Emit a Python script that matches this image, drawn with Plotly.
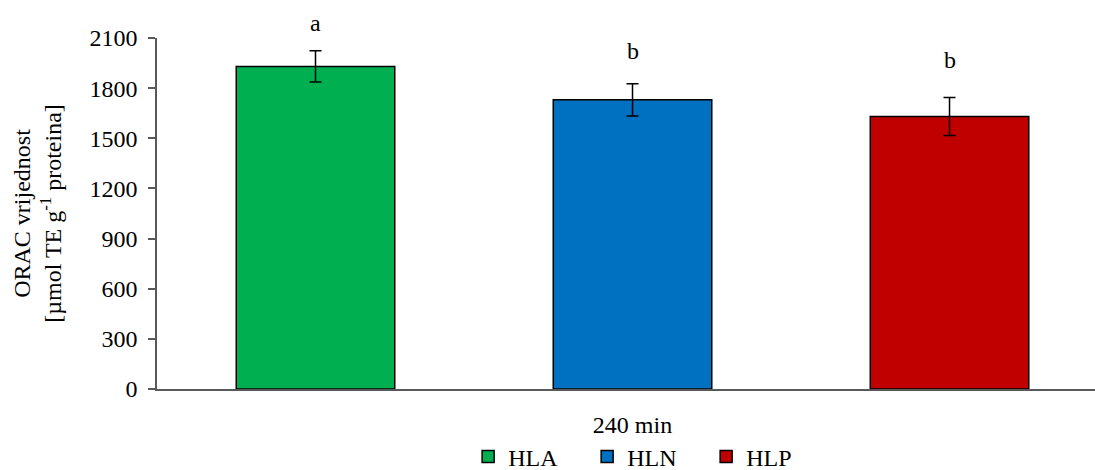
import plotly.graph_objects as go

categories = ["240 min"]
series_names = ["HLA", "HLN", "HLP"]
values = [1930, 1730, 1630]
errors = [93, 97, 114]
colors = ["#00B050", "#0070C0", "#C00000"]
letters = ["a", "b", "b"]
letter_y = [2190, 2020, 1970]
y_ticks = [0, 300, 600, 900, 1200, 1500, 1800, 2100]
Y_MAX = 2100

FONT = "Liberation Serif, Times New Roman, serif"
FS = 24

fig = go.Figure()
for name, v, e, c in zip(series_names, values, errors, colors):
    fig.add_trace(go.Bar(
        x=categories, y=[v], name=name,
        marker=dict(color=c, line=dict(color="black", width=1.5)),
        error_y=dict(type="data", array=[e], visible=True, color="black",
                     thickness=1.5, width=6),
        offsetgroup=name,
    ))

# significance letters over each bar (group offsets of 1/3 category)
offsets = [-1/3, 0, 1/3]
for off, t, ly in zip(offsets, letters, letter_y):
    fig.add_annotation(x=off, y=ly / Y_MAX, text=t, showarrow=False,
                       xref="x", yref="y domain", yanchor="middle", xanchor="center",
                       font=dict(family=FONT, size=FS, color="black"))

fig.update_layout(
    width=1095, height=470,
    margin=dict(l=157, r=0, t=38, b=81, autoexpand=False),
    paper_bgcolor="white", plot_bgcolor="white",
    barmode="group", bargap=0, bargroupgap=0.5,
    font=dict(family=FONT, size=FS, color="black"),
    showlegend=True,
    legend=dict(orientation="h", xanchor="center", x=0.522,
                yref="container", yanchor="middle", y=0.028,
                font=dict(family=FONT, size=FS, color="black"),
                itemwidth=30, traceorder="normal", entrywidth=74),
)
fig.update_xaxes(
    type="category", range=[-0.5, 0.4863], automargin=False,
    showline=True, linecolor="#595959", linewidth=1.5,
    ticks="", showgrid=False, ticklabelstandoff=13,
    tickfont=dict(family=FONT, size=FS, color="black"),
)
fig.update_yaxes(
    range=[0, Y_MAX], tickvals=y_ticks, automargin=False,
    showline=True, linecolor="#595959", linewidth=1.5,
    ticks="outside", ticklen=7, tickcolor="#595959", tickwidth=1.5,
    ticklabelstandoff=6,
    showgrid=False, zeroline=False,
    tickfont=dict(family=FONT, size=FS, color="black"),
    title=dict(text="ORAC vrijednost<br>[µmol TE g<sup>-1</sup> proteina]",
               font=dict(family=FONT, size=FS, color="black"), standoff=21),
)

fig.write_html("out.html",
               config={"displayModeBar": False},
               post_script="document.body.style.margin='0px';document.body.style.overflow='hidden';")
